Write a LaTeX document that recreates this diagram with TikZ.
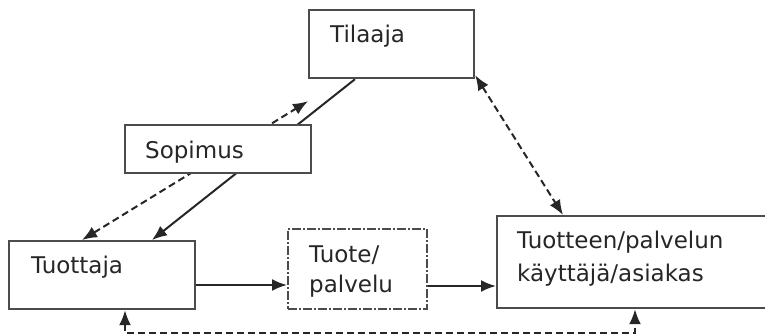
\documentclass[tikz,border=0pt]{standalone}
\usepackage{fontspec}
\setmainfont{DejaVu Sans}
\usetikzlibrary{arrows.meta,backgrounds}
\definecolor{ln}{gray}{0.3}
\tikzset{
  box/.style={draw=ln, line width=2.2pt, fill=white, anchor=north west, inner sep=0pt},
  txt/.style={anchor=base west, inner sep=0pt, text=black!85, font=\fontsize{23}{33}\selectfont},
  tip/.style={-{Latex[length=15pt,width=12pt]}},
  tips/.style={{Latex[length=15pt,width=12pt]}-{Latex[length=15pt,width=12pt]}},
  conn/.style={draw=black!85, line width=2pt},
  dconn/.style={conn, dash pattern=on 7pt off 4pt},
}
\begin{document}
\begin{tikzpicture}[x=1pt,y=-1pt]
\useasboundingbox (0,0) rectangle (765,334);
\clip (0,0) rectangle (765,334);
\node[box, minimum width=165pt, minimum height=68pt] (ti) at (308,9) {};
\node[box, minimum width=186pt, minimum height=48pt] (so) at (124,124) {};
\node[box, minimum width=186pt, minimum height=68pt] (tu) at (8,240) {};
\node[box, minimum width=139pt, minimum height=80pt, dash pattern=on 9pt off 2pt on 2pt off 2pt] (tp) at (287,228) {};
\node[box, minimum width=280pt, minimum height=92pt] (ka) at (496,215) {};
\node[txt] (tiT) at (330,43) {Tilaaja};
\node[txt] (soT) at (145,158) {Sopimus};
\node[txt] (tuT) at (31,273) {Tuottaja};
\node[txt] (tpT1) at (309,262) {Tuote/};
\node[txt] (tpT2) at (309,292) {palvelu};
\node[txt] (kaT1) at (517,248) {Tuotteen/palvelun};
\node[txt] (kaT2) at (517,281) {käyttäjä/asiakas};
\begin{scope}[on background layer]
\draw[dconn, tips] ([xshift=74pt]tu.north west) -- ([yshift=-22pt]ti.south west);
\draw[conn, tip] ([xshift=47pt]ti.south west) -- ([xshift=144pt]tu.north west);
\end{scope}
\draw[dconn, tips] ([yshift=4pt]ti.south east) -- ([xshift=67pt]ka.north west);
\draw[conn, tip] (tu.east |- 0,285) -- (tp.west |- 0,285);
\draw[conn, tip] (tp.east |- 0,286) -- (ka.west |- 0,286);
\draw[dconn, tips] ([xshift=117pt]tu.south west) -- ++(0,23) -| ([xshift=139pt]ka.south west);
\end{tikzpicture}
\end{document}
